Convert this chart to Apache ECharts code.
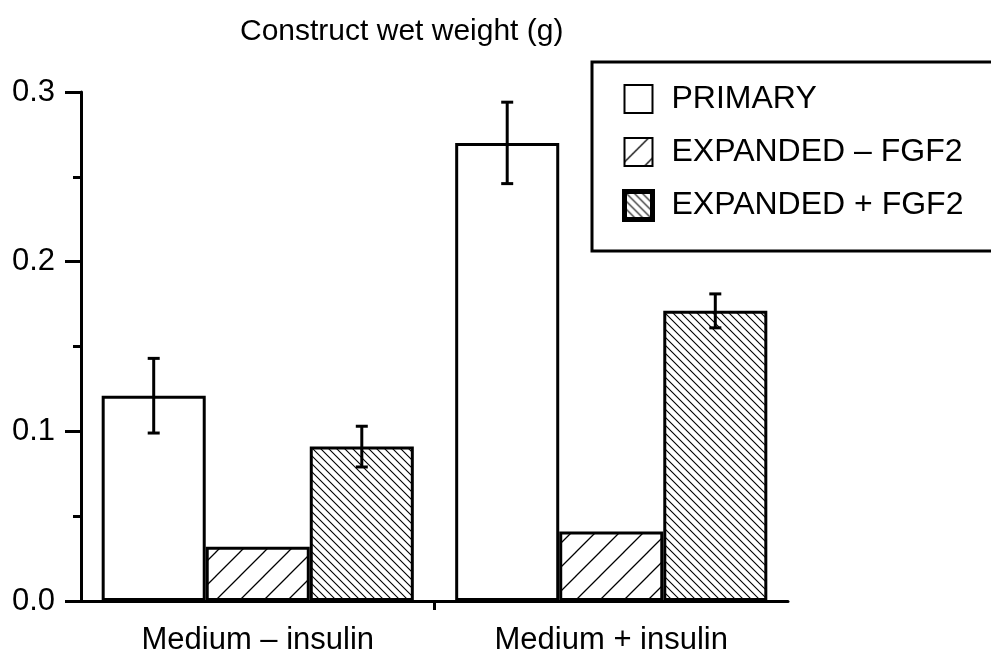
<!DOCTYPE html>
<html>
<head>
<meta charset="utf-8">
<title>Construct wet weight</title>
<script src="https://cdn.jsdelivr.net/npm/echarts@6/dist/echarts.min.js"></script>
<style>
  html, body { margin: 0; padding: 0; background: #fff; }
  #main { width: 991px; height: 660px; }
</style>
</head>
<body>
<div id="main"></div>
<script>
// data
const categories = ['Medium – insulin', 'Medium + insulin'];
const seriesNames = ['PRIMARY', 'EXPANDED – FGF2', 'EXPANDED + FGF2'];
const primary = [0.121, 0.270];
const expandedMinus = [0.032, 0.041];
const expandedPlus = [0.091, 0.171];
const primaryErr = [0.022, 0.024];
const expandedPlusErr = [0.012, 0.010];

const FONT = 'Liberation Sans';
const CAT_GAP = 0.117;

// hatch tiles
function hatch(size, dir, lw) {
  const c = document.createElement('canvas');
  c.width = size; c.height = size;
  const ctx = c.getContext('2d');
  ctx.fillStyle = '#fff';
  ctx.fillRect(0, 0, size, size);
  ctx.strokeStyle = '#000';
  ctx.lineWidth = lw;
  ctx.beginPath();
  if (dir === '/') {
    ctx.moveTo(-1, size + 1); ctx.lineTo(size + 1, -1);
    ctx.moveTo(-2, 2); ctx.lineTo(2, -2);
    ctx.moveTo(size - 2, size + 2); ctx.lineTo(size + 2, size - 2);
  } else {
    ctx.moveTo(-1, -1); ctx.lineTo(size + 1, size + 1);
    ctx.moveTo(size - 2, -2); ctx.lineTo(size + 2, 2);
    ctx.moveTo(-2, size - 2); ctx.lineTo(2, size + 2);
  }
  ctx.stroke();
  return { image: c, repeat: 'repeat' };
}

const slashFill = hatch(24, '/', 1.3);
const backFill = hatch(8, '\\', 1.1);

// error bars: [category, slot, low, high]
const errData = [];
for (let i = 0; i < categories.length; i++) {
  errData.push([i, 0, primary[i] - primaryErr[i], primary[i] + primaryErr[i]]);
  errData.push([i, 2, expandedPlus[i] - expandedPlusErr[i], expandedPlus[i] + expandedPlusErr[i]]);
}

function renderErr(params, api) {
  const cat = api.value(0);
  const slot = api.value(1);
  const lo = api.coord([cat, api.value(2)]);
  const hi = api.coord([cat, api.value(3)]);
  const band = api.size([1, 0])[0];
  const barW = band * (1 - CAT_GAP) / 3;
  const x = lo[0] + (slot - 1) * barW;
  const cap = 6;
  const st = { stroke: '#000', lineWidth: 3 };
  return {
    type: 'group',
    children: [
      { type: 'line', shape: { x1: x, y1: lo[1], x2: x, y2: hi[1] }, style: st },
      { type: 'line', shape: { x1: x - cap, y1: lo[1], x2: x + cap, y2: lo[1] }, style: st },
      { type: 'line', shape: { x1: x - cap, y1: hi[1], x2: x + cap, y2: hi[1] }, style: st }
    ]
  };
}

const chart = echarts.init(document.getElementById('main'));

const barBase = {
  type: 'bar',
  barGap: '0%',
  barCategoryGap: (CAT_GAP * 100) + '%',
  itemStyle: { borderColor: '#000', borderWidth: 3 }
};

chart.setOption({
  animation: false,
  textStyle: { fontFamily: FONT, color: '#000' },
  title: {
    text: 'Construct wet weight (g)',
    left: 235,
    top: 12,
    textStyle: { fontFamily: FONT, fontSize: 30, fontWeight: 'normal', color: '#000' }
  },
  grid: { left: 81, right: 203, top: 92, bottom: 59 },
  legend: {
    orient: 'vertical',
    left: 592,
    top: 62,
    padding: [21, 400, 29, 30],
    itemWidth: 28,
    itemHeight: 28,
    itemGap: 21,
    icon: 'rect',
    borderColor: '#000',
    borderWidth: 3,
    backgroundColor: '#fff',
    textStyle: { fontFamily: FONT, fontSize: 32, color: '#000', padding: [0, 0, 0, 14] },
    data: [
      { name: seriesNames[0], itemStyle: { borderWidth: 2 } },
      { name: seriesNames[1], itemStyle: { borderWidth: 2 } },
      { name: seriesNames[2], itemStyle: { borderWidth: 5 } }
    ]
  },
  xAxis: [
    {
      type: 'category',
      data: categories,
      axisLine: { lineStyle: { color: '#000', width: 3 } },
      axisTick: { show: false },
      axisLabel: { margin: 24, fontFamily: FONT, fontSize: 31, color: '#000' },
      splitLine: { show: false }
    },
    {
      type: 'value',
      position: 'bottom',
      min: 0,
      max: 2,
      interval: 1,
      axisLine: { show: false },
      axisLabel: { show: false },
      splitLine: { show: false },
      axisTick: { show: true, customValues: [1], length: 9, lineStyle: { color: '#000', width: 3 } }
    }
  ],
  yAxis: {
    type: 'value',
    min: 0,
    max: 0.3,
    interval: 0.1,
    axisLine: { show: true, lineStyle: { color: '#000', width: 3 } },
    axisTick: { show: true, length: 16, lineStyle: { color: '#000', width: 3 } },
    minorTick: { show: true, splitNumber: 2, length: 8, lineStyle: { color: '#000', width: 3 } },
    axisLabel: {
      margin: 26,
      fontFamily: FONT,
      fontSize: 31,
      color: '#000',
      formatter: v => v.toFixed(1)
    },
    splitLine: { show: false }
  },
  series: [
    Object.assign({}, barBase, {
      name: seriesNames[0],
      data: primary,
      itemStyle: { color: '#fff', borderColor: '#000', borderWidth: 3 }
    }),
    Object.assign({}, barBase, {
      name: seriesNames[1],
      data: expandedMinus,
      itemStyle: { color: slashFill, borderColor: '#000', borderWidth: 3 }
    }),
    Object.assign({}, barBase, {
      name: seriesNames[2],
      data: expandedPlus,
      itemStyle: { color: backFill, borderColor: '#000', borderWidth: 3 }
    }),
    {
      type: 'custom',
      name: 'err',
      renderItem: renderErr,
      data: errData,
      encode: { x: 0, y: [2, 3] },
      z: 5,
      silent: true
    }
  ]
});
</script>
</body>
</html>
